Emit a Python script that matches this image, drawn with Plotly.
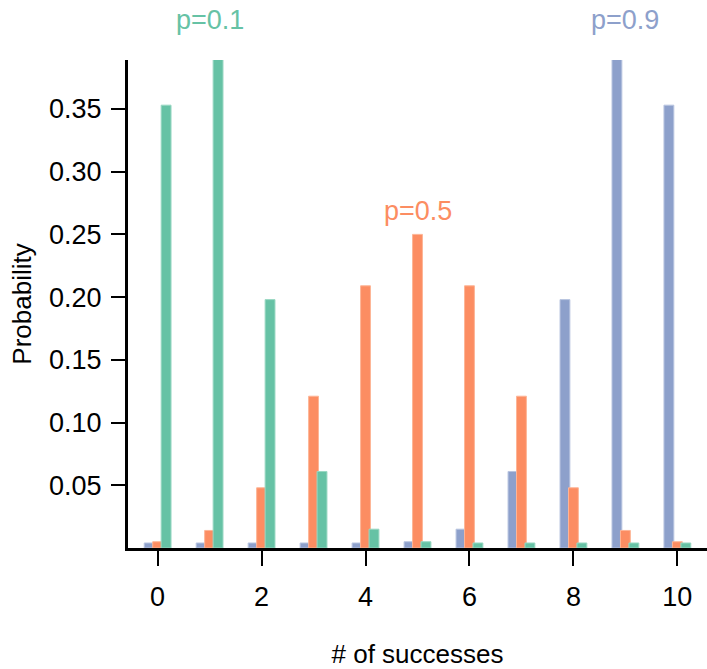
import plotly.graph_objects as go

successes = list(range(11))
# bar heights (probability of k successes, n=10)
p01_vals = [0.353, 0.391, 0.198, 0.061, 0.015, 0.005, 0.004, 0.004, 0.004, 0.004, 0.004]
p05_vals = [0.005, 0.014, 0.048, 0.121, 0.209, 0.250, 0.209, 0.121, 0.048, 0.014, 0.005]
p09_vals = [0.004, 0.004, 0.004, 0.004, 0.004, 0.005, 0.015, 0.061, 0.198, 0.391, 0.353]

y_ticks = [0.05, 0.10, 0.15, 0.20, 0.25, 0.30, 0.35]
y_tick_labels = ["0.05", "0.10", "0.15", "0.20", "0.25", "0.30", "0.35"]
x_ticks = [0, 2, 4, 6, 8, 10]

GREEN = "#66c2a5"
ORANGE = "#fc8d62"
BLUE = "#8da0cb"

W = 0.19
fig = go.Figure()
for vals, col, edge, off in [
    (p09_vals, BLUE, "#b9c5e0", -0.163),
    (p05_vals, ORANGE, "#fdb596", 0.0),
    (p01_vals, GREEN, "#9ad8c3", 0.163),
]:
    fig.add_trace(go.Bar(
        x=successes, y=vals, width=W, offset=off - W / 2,
        marker=dict(color=col, line=dict(color=edge, width=1)),
        showlegend=False, hoverinfo="skip", cliponaxis=True,
    ))

FAM = "Liberation Sans, Arial, sans-serif"
FS = 27
font = dict(family=FAM, size=FS, color="black")
fig.add_annotation(x=1, xref="x", y=1.082, yref="paper", yanchor="middle", text="p=0.1",
                   showarrow=False, font=dict(family=FAM, size=FS, color=GREEN))
fig.add_annotation(x=5, xref="x", y=0.269, yref="y", yanchor="middle", text="p=0.5",
                   showarrow=False, font=dict(family=FAM, size=FS, color=ORANGE))
fig.add_annotation(x=9, xref="x", y=1.082, yref="paper", yanchor="middle", text="p=0.9",
                   showarrow=False, font=dict(family=FAM, size=FS, color=BLUE))

fig.update_layout(
    width=707, height=669,
    margin=dict(l=128, r=0, t=60, b=121, autoexpand=False),
    paper_bgcolor="white", plot_bgcolor="white",
    barmode="overlay",
    font=font,
    xaxis=dict(
        range=[-0.57, 10.57], tickvals=x_ticks, ticktext=[str(v) for v in x_ticks],
        showline=True, linecolor="black", linewidth=3, showgrid=False, zeroline=False,
        ticks="outside", ticklen=15, tickwidth=2, tickcolor="black",
        ticklabelstandoff=8, automargin=False,
        title=dict(text="# of successes", standoff=34, font=dict(size=FS - 1)),
    ),
    yaxis=dict(
        range=[0, 0.389], tickvals=y_ticks, ticktext=y_tick_labels,
        showline=True, linecolor="black", linewidth=3, showgrid=False, zeroline=False,
        ticks="outside", ticklen=14, tickwidth=2, tickcolor="black",
        ticklabelstandoff=4, automargin=False,
        title=dict(text="Probability", standoff=10, font=dict(size=FS - 1)),
    ),
)

fig.write_html("out.html", config={"displayModeBar": False},
               post_script="document.body.style.margin='0';")
